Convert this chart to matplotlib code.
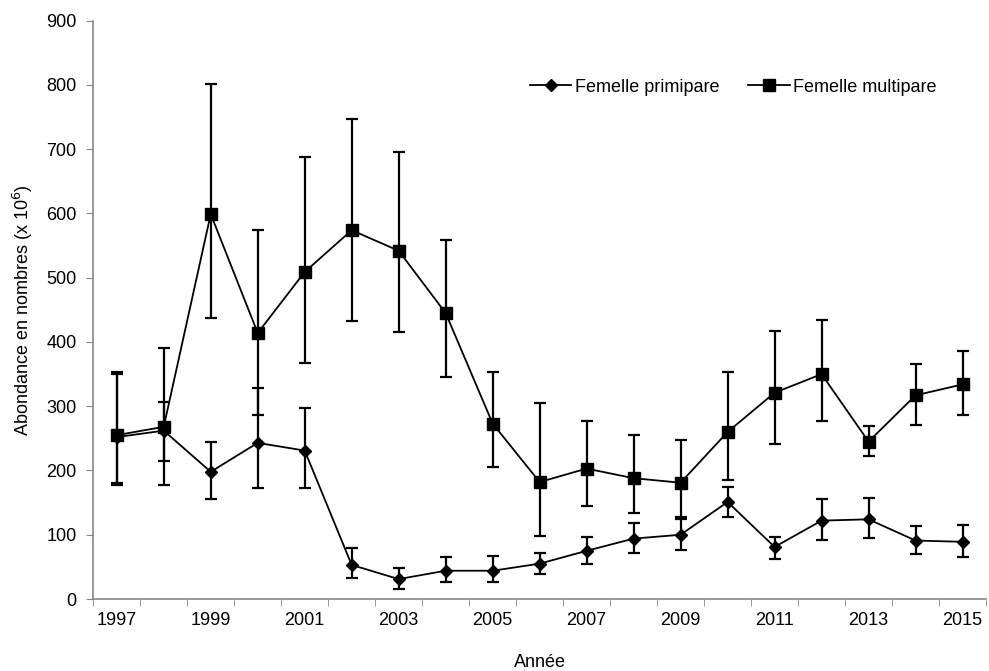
import numpy as np
import matplotlib
matplotlib.use('Agg')
import matplotlib.pyplot as plt
from matplotlib.lines import Line2D

plt.rcParams['font.family'] = ['Liberation Sans', 'DejaVu Sans']

years = list(range(1997, 2016))

# Femelle primipare : valeur, borne basse, borne haute
prim = [252, 262, 198, 243, 231, 53, 31, 44, 44, 55, 75, 94, 100, 151, 81, 122, 124, 91, 89]
prim_low = [178, 215, 155, 173, 172, 32, 16, 27, 27, 39, 55, 72, 76, 127, 63, 92, 95, 70, 66]
prim_high = [350, 307, 244, 329, 297, 79, 49, 65, 67, 72, 96, 118, 124, 175, 96, 155, 157, 114, 115]

# Femelle multipare
multi = [255, 268, 599, 414, 509, 574, 542, 445, 273, 182, 203, 188, 181, 260, 321, 350, 245, 317, 334]
multi_low = [180, 177, 438, 287, 368, 433, 416, 346, 206, 98, 145, 134, 127, 185, 241, 277, 222, 271, 286]
multi_high = [354, 390, 802, 575, 688, 747, 695, 559, 354, 305, 277, 256, 248, 354, 417, 435, 269, 365, 386]

x = np.arange(len(years))
prim = np.array(prim)
multi = np.array(multi)

fig = plt.figure(figsize=(9.89, 6.71), dpi=100)
ax = fig.add_axes([0.0943, 0.1073, 0.9027, 0.8618])

ax.errorbar(x, prim, yerr=[prim - np.array(prim_low), np.array(prim_high) - prim],
            color='black', marker='D', markersize=6, linewidth=1.3,
            elinewidth=1.6, capsize=4, capthick=1.6)
ax.errorbar(x, multi, yerr=[multi - np.array(multi_low), np.array(multi_high) - multi],
            color='black', marker='s', markersize=8, linewidth=1.3,
            elinewidth=1.6, capsize=4, capthick=1.6)

ax.set_xlim(-0.5, len(years) - 0.5)
ax.set_ylim(0, 900)
ax.set_yticks(range(0, 901, 100))

# etiquettes au centre des categories, graduations aux limites
ax.set_xticks(x[::2])
ax.set_xticklabels([str(y) for y in years[::2]])
ax.set_xticks(np.arange(-0.5, len(years), 1), minor=True)
ax.tick_params(axis='x', which='major', length=0, pad=9, labelsize=13)
ax.tick_params(axis='x', which='minor', length=5, direction='out', color='#868686')
ax.tick_params(axis='y', length=5, direction='out', pad=7, labelsize=13, color='#868686')

for s in ['top', 'right']:
    ax.spines[s].set_visible(False)
for s in ['left', 'bottom']:
    ax.spines[s].set_color('#868686')
    ax.spines[s].set_linewidth(1.2)

ax.set_xlabel('Année', fontsize=13, labelpad=18)
ax.set_ylabel('Abondance en nombres (x 10$^{6}$)', fontsize=13, labelpad=8)

handles = [Line2D([], [], color='black', marker='D', markersize=6, linewidth=1.3),
           Line2D([], [], color='black', marker='s', markersize=8, linewidth=1.3)]
labels = ['Femelle primipare', 'Femelle multipare']
ax.legend(handles, labels, ncol=2, frameon=False, fontsize=13,
          loc='center left', bbox_to_anchor=(0.489, 0.885),
          borderaxespad=0, borderpad=0,
          handlelength=2.3, handletextpad=0.2, columnspacing=1.6)

fig.savefig('out.png', dpi=100)
